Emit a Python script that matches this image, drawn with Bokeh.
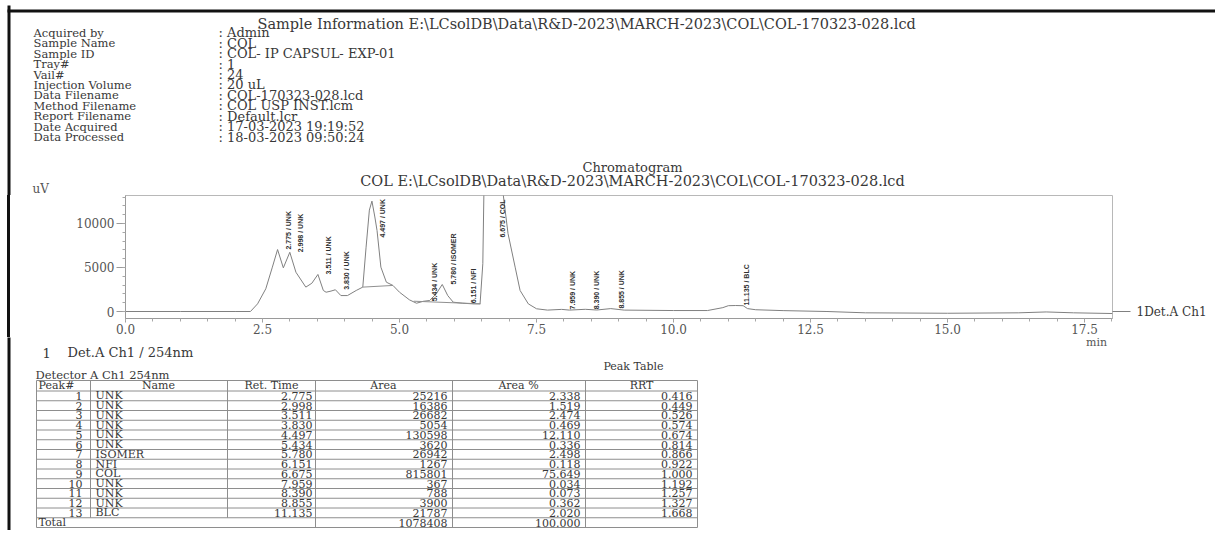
import numpy as np
from bokeh.plotting import figure
from bokeh.layouts import column, row
from bokeh.models import Range1d, FixedTicker, LinearAxis, NumeralTickFormatter
from bokeh.embed import file_html
from bokeh.resources import INLINE
from bokeh.core.properties import value

# ---------------- data ----------------
info_title = "Sample Information E:\\LCsolDB\\Data\\R&D-2023\\MARCH-2023\\COL\\COL-170323-028.lcd"
info_labels = ["Acquired by", "Sample Name", "Sample ID", "Tray#", "Vail#", "Injection Volume",
               "Data Filename", "Method Filename", "Report Filename", "Date Acquired", "Data Processed"]
info_values = ["Admin", "COL", "COL- IP CAPSUL- EXP-01", "1", "24", "20 uL", "COL-170323-028.lcd",
               "COL USP INST.lcm", "Default.lcr", "17-03-2023 19:19:52", "18-03-2023 09:50:24"]
chrom_title = "Chromatogram"
chrom_file = "COL E:\\LCsolDB\\Data\\R&D-2023\\MARCH-2023\\COL\\COL-170323-028.lcd"
channel = "Det.A Ch1 / 254nm"
channel_tag = "1Det.A Ch1"

# chromatogram trace (min, uV)
trace_t = [0.0, 1.0, 2.0, 2.28, 2.41, 2.56, 2.68, 2.775, 2.88, 2.998,
           3.11, 3.29, 3.40, 3.511, 3.61, 3.66, 3.75, 3.83, 3.93, 4.05,
           4.21, 4.33, 4.39, 4.45, 4.497, 4.55, 4.59, 4.66, 4.76, 4.88,
           5.00, 5.18, 5.31, 5.434, 5.55, 5.67, 5.78, 5.88, 5.98, 6.151,
           6.34, 6.47, 6.52, 6.55, 6.60, 6.675, 6.75, 6.83, 6.89, 6.98,
           7.11, 7.20, 7.35, 7.50, 7.70, 7.959, 8.10, 8.39, 8.60, 8.855,
           9.10, 10.0, 10.62, 10.90, 11.0, 11.135, 11.27, 11.35, 11.50, 12.0,
           12.8, 13.5, 15.0, 16.3, 16.8, 17.3, 18.01]
trace_uv = [0, 0, 0, 0, 870, 2580, 5040, 7040, 4960, 6730,
            4460, 2770, 3210, 4210, 2390, 2190, 2320, 2470, 1810, 1810,
            2390, 2770, 7310, 11520, 12540, 10740, 9200, 5040, 3330, 2960,
            2190, 1330, 940, 1160, 1250, 2010, 3070, 1810, 1060, 940,
            870, 870, 5430, 17600, 38700, 49700, 38700, 22000, 13400, 8860,
            5040, 2390, 870, 310, 160, 240, 160, 250, 170, 330,
            160, 110, 110, 440, 660, 680, 660, 330, 200, 100,
            0, -150, -200, -150, -50, -150, -230]
# integration baselines (min, uV); NaN separates segments
base_t = [4.33, 4.88, np.nan, 5.26, 6.48]
base_uv = [2770, 2960, np.nan, 1170, 870]

peak_no = [1, 2, 3, 4, 5, 6, 7, 8, 9, 10, 11, 12, 13]
peak_names = ["UNK", "UNK", "UNK", "UNK", "UNK", "UNK", "ISOMER", "NFI", "COL", "UNK", "UNK", "UNK", "BLC"]
ret_times = [2.775, 2.998, 3.511, 3.830, 4.497, 5.434, 5.780, 6.151, 6.675, 7.959, 8.390, 8.855, 11.135]
areas = [25216, 16386, 26682, 5054, 130598, 3620, 26942, 1267, 815801, 367, 788, 3900, 21787]
area_pct = [2.338, 1.519, 2.474, 0.469, 12.110, 0.336, 2.498, 0.118, 75.649, 0.034, 0.073, 0.362, 2.020]
rrt = [0.416, 0.449, 0.526, 0.574, 0.674, 0.814, 0.866, 0.922, 1.000, 1.192, 1.257, 1.327, 1.668]
total_area = 1078408
total_pct = 100.000
table_headers = ["Peak#", "Name", "Ret. Time", "Area", "Area %", "RRT"]

# ---------------- styling / layout constants (page pixels) ----------------
W, H = 1215, 530
SERIF = "DejaVu Serif"
INK = "#383838"
RULE = "#8e8e8e"
TRACE = "#808080"
EDGE = "#111111"
STRIP = 10                   # strip left of the chart that carries the scanned page edge
H_A, H_B = 195, 142          # header block, chart block (frame 195..318 + x axis)
H_C = H - H_A - H_B          # legend + table block


def no_align(f):
    if "frame_align" in f.properties():
        f.frame_align = False
    return f


def canvas(w, h, x0, y0):
    f = figure(width=w, height=h, output_backend="svg", toolbar_location=None,
               x_range=Range1d(x0, x0 + w), y_range=Range1d(y0 + h, y0),
               x_axis_type=None, y_axis_type=None, min_border=0)
    f.outline_line_color = None
    return no_align(f)


def texts(f, xs, ys, ss, size, align="left", color=INK, font=SERIF):
    f.text(x=list(xs), y=list(ys), text=list(ss), text_font=value(font), text_font_size=size,
           text_color=color, text_align=align, text_baseline="middle")


def edge(f, y0, y1):
    f.segment(x0=[8.5], y0=[y0 - 4], x1=[8.5], y1=[y1 + 4], line_color=EDGE, line_width=3)


# ---------------- block A: sample information ----------------
A = canvas(W, H_A, 0, 0)
edge(A, 9, H_A)
A.segment(x0=[7], y0=[10.5], x1=[W + 5], y1=[10.5], line_color=EDGE, line_width=3)
texts(A, [257], [23], [info_title], "14.5px")
rows = 32.3 + 10.43 * np.arange(len(info_labels))
texts(A, [33] * len(rows), rows, info_labels, "11.5px")
texts(A, [218] * len(rows), rows, [": " + v for v in info_values], "13px")
texts(A, [632], [167], [chrom_title], "13px", align="center")
texts(A, [632], [180], [chrom_file], "14.5px", align="center")
texts(A, [32], [188], ["uV"], "12px", color="#555555")

# ---------------- block B: chromatogram ----------------
S = canvas(STRIP, H_B, 0, H_A)
S.background_fill_color = None
S.border_fill_color = None
edge(S, H_A, H_A + H_B)

B = figure(width=W - STRIP, height=H_B, output_backend="svg", toolbar_location=None,
           x_range=Range1d(0, 18.01), y_range=Range1d(-795, 13180),
           min_border_left=125 - STRIP, min_border_right=W - 1112,
           min_border_top=0, min_border_bottom=19)
no_align(B)
B.styles = {"box-shadow": "-3px 0 0 0 #111111"}   # continues the page edge beside the x axis
B.grid.visible = False
B.outline_line_color = "#b8b8b8"
for ax in (B.xaxis[0], B.yaxis[0]):
    ax.axis_line_color = "#9a9a9a"
    ax.major_tick_line_color = "#9a9a9a"
    ax.minor_tick_line_color = "#a8a8a8"
    ax.major_tick_in = 0
    ax.minor_tick_in = 0
    ax.major_label_text_font = SERIF
    ax.major_label_text_font_size = "12px"
    ax.major_label_text_color = "#555555"
B.xaxis[0].ticker = FixedTicker(ticks=list(np.arange(0, 18, 2.5)),
                                minor_ticks=list(np.arange(0, 18.01, 0.5)))
B.xaxis[0].formatter = NumeralTickFormatter(format="0.0")
B.xaxis[0].major_tick_out = 4
B.xaxis[0].minor_tick_out = 3
B.xaxis[0].major_label_standoff = 1
B.yaxis[0].ticker = FixedTicker(ticks=[0, 5000, 10000],
                                minor_ticks=list(np.arange(0, 13001, 1000)))
B.yaxis[0].major_tick_out = 9
B.yaxis[0].minor_tick_out = 3
B.yaxis[0].major_label_standoff = 2

tag_axis = LinearAxis(ticker=FixedTicker(ticks=[0], minor_ticks=[]),
                      major_label_overrides={0: channel_tag},
                      axis_line_color=None, major_tick_line_color=TRACE,
                      major_tick_out=18, major_tick_in=0, major_label_standoff=6,
                      major_label_text_font=SERIF, major_label_text_font_size="12px",
                      major_label_text_color=INK)
B.add_layout(tag_axis, "right")

B.line(trace_t, trace_uv, line_color=TRACE, line_width=1)
B.line(base_t, base_uv, line_color="#909090", line_width=1)

heights = np.interp(ret_times, trace_t, trace_uv)
label_y = np.minimum(heights, 8400)
peak_text = [f"{rt:.3f} / {nm}" for rt, nm in zip(ret_times, peak_names)]
B.text(x=np.array(ret_times) + 0.2, y=label_y, text=peak_text, angle=np.pi / 2,
       text_font=value("Liberation Sans"), text_font_size="7px", text_font_style="bold",
       text_color="#303030", text_align="left", text_baseline="middle")

# ---------------- block C: legend + peak table ----------------
y0c = H_A + H_B
C = canvas(W, H_C, 0, y0c)
edge(C, y0c, H + 5)
texts(C, [1096], [342], ["min"], "11px", align="center", color="#555555")
texts(C, [42], [352], ["1"], "13px")
texts(C, [67], [352], [channel], "13px")
texts(C, [633], [366], ["Peak Table"], "11px", align="center")
texts(C, [35], [374], ["Detector A Ch1 254nm"], "11.5px")

col_x = [36, 90, 227, 315, 452, 585, 697]
top, hdr_bot, row_h = 380, 390.5, 9.75
n = len(peak_no)
bottom = hdr_bot + row_h * (n + 1)
hy = [top] + [hdr_bot + row_h * i for i in range(n + 2)]
C.segment(x0=[col_x[0]] * len(hy), y0=hy, x1=[col_x[-1]] * len(hy), y1=hy,
          line_color=RULE, line_width=1)
vy1 = [hdr_bot + row_h * n if j in (1, 2) else bottom for j in range(len(col_x))]
C.segment(x0=col_x, y0=[top] * len(col_x), x1=col_x, y1=vy1, line_color=RULE, line_width=1)

FS = "11px"
hmid = (top + hdr_bot) / 2
texts(C, [38], [hmid], table_headers[:1], FS)
texts(C, [158, 271, 383, 518, 641], [hmid] * 5, table_headers[1:], FS, align="center")

row_y = hdr_bot + row_h * (np.arange(n) + 0.5)
texts(C, [82] * n, row_y, [str(v) for v in peak_no], FS, align="right")
texts(C, [95] * n, row_y, peak_names, FS)
texts(C, [312] * n, row_y, [f"{v:.3f}" for v in ret_times], FS, align="right")
texts(C, [447] * n, row_y, [str(v) for v in areas], FS, align="right")
texts(C, [580] * n, row_y, [f"{v:.3f}" for v in area_pct], FS, align="right")
texts(C, [692] * n, row_y, [f"{v:.3f}" for v in rrt], FS, align="right")
ty = hdr_bot + row_h * (n + 0.5)
texts(C, [38], [ty], ["Total"], FS)
texts(C, [447, 580], [ty, ty], [str(total_area), f"{total_pct:.3f}"], FS, align="right")

layout = column(A, row(S, B, spacing=0), C, spacing=0)
open("out.html", "w").write(file_html(layout, INLINE))
